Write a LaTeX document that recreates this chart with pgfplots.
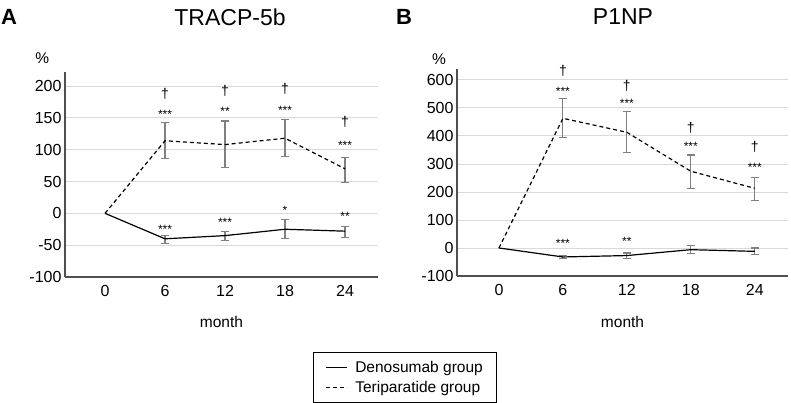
\documentclass[border=0pt]{standalone}
\usepackage{fontspec}
\setmainfont{Liberation Sans}
\usepackage{pgfplots}
\pgfplotsset{compat=1.18}
\definecolor{errgray}{RGB}{128,128,128}
\definecolor{gridgray}{RGB}{217,217,217}
\definecolor{axisgray}{RGB}{80,80,80}
\tikzset{
  star/.style={font=\fontsize{12}{12}\selectfont, anchor=center},
  dag/.style={font=\fontsize{14}{14}\selectfont, anchor=center},
}
\pgfplotsset{
  panel/.style={
    scale only axis,
    anchor=south west,
    axis lines*=left,
    axis line style={draw=axisgray, line width=1.3pt},
    ymajorgrids,
    grid style={draw=gridgray, line width=0.9pt},
    major tick length=0pt,
    xmin=-0.667, xmax=4.55,
    xtick={0,1,2,3,4},
    xticklabels={0,6,12,18,24},
    /pgf/number format/assume math mode=true,
    tick label style={font=\fontsize{16}{18}\selectfont},
    xticklabel style={yshift=-5pt},
    xlabel={month},
    xlabel style={font=\fontsize{15.5}{18}\selectfont, at={(axis description cs:0.5,-0.22)}, anchor=center},
    clip=false,
  },
  ebar/.style={draw=none, forget plot,
    error bars/.cd, y dir=both, y explicit,
    error bar style={draw=errgray, line width=1.1pt, solid},
    error mark options={draw=errgray, line width=1.1pt, mark size=4pt, solid, rotate=90}},
}
\begin{document}
\begin{tikzpicture}
\path[use as bounding box] (0pt,0pt) rectangle (791pt,402pt);
\node[font=\fontsize{22}{24}\selectfont\bfseries] at (9pt,385pt) {A};
\node[font=\fontsize{23}{26}\selectfont] at (230pt,385pt) {TRACP-5b};
\node[font=\fontsize{22}{24}\selectfont\bfseries] at (404pt,385pt) {B};
\node[font=\fontsize{23}{26}\selectfont] at (623pt,385pt) {P1NP};

\begin{axis}[panel, at={(65pt,125pt)}, width=313pt, height=205pt,
  ymin=-100, ymax=222, ytick={-100,-50,0,50,100,150,200},
  legend style={at={(axis description cs:0.792,-0.366)}, anchor=north west,
    font=\fontsize{15.5}{18}\selectfont, draw=black, line width=0.8pt,
    inner xsep=12pt, inner ysep=7pt, row sep=3pt,
    /tikz/every odd column/.append style={column sep=6pt}},
  legend cell align=left,
  legend image code/.code={\draw[#1, line width=1pt] (0pt,0pt) -- (21pt,0pt);},
]
\addplot[ebar] coordinates {(1,-40) += (0,5) -= (0,7) (2,-35) += (0,6) -= (0,7) (3,-25) += (0,15) -= (0,15) (4,-28) += (0,8) -= (0,10)};
\addplot[ebar] coordinates {(1,114) += (0,29) -= (0,28) (2,108) += (0,37) -= (0,36) (3,118) += (0,30) -= (0,29) (4,70) += (0,18) -= (0,21)};
\addplot[black, line width=1.2pt, mark=none] coordinates {(0,0) (1,-40) (2,-35) (3,-25) (4,-28)};
\addlegendentry{Denosumab group}
\addplot[black, line width=1.2pt, mark=none, dash pattern=on 4pt off 3pt] coordinates {(0,0) (1,114) (2,108) (3,118) (4,70)};
\addlegendentry{Teriparatide group}
\node at (axis description cs:-0.073,1.068) {\fontsize{15.5}{18}\selectfont\%};
\node[dag] at (axis cs:1,188) {†};
\node[star] at (axis cs:1,155.5) {***};
\node[dag] at (axis cs:2,193) {†};
\node[star] at (axis cs:2,160.5) {**};
\node[dag] at (axis cs:3,196) {†};
\node[star] at (axis cs:3,161.5) {***};
\node[dag] at (axis cs:4,144) {†};
\node[star] at (axis cs:4,107.5) {***};
\node[star] at (axis cs:1,-25.5) {***};
\node[star] at (axis cs:2,-14.5) {***};
\node[star] at (axis cs:3,4.5) {*};
\node[star] at (axis cs:4,-4.5) {**};
\end{axis}

\begin{axis}[panel, at={(457pt,126pt)}, width=331pt, height=207pt,
  xmin=-0.656, xmax=4.52,
  ymin=-100, ymax=639, ytick={-100,0,100,200,300,400,500,600}]
\addplot[ebar] coordinates {(1,-32) += (0,6) -= (0,7) (2,-27) += (0,9) -= (0,10) (3,-6) += (0,16) -= (0,15) (4,-12) += (0,12) -= (0,12)};
\addplot[ebar] coordinates {(1,463) += (0,70) -= (0,70) (2,413) += (0,73) -= (0,71) (3,274) += (0,58) -= (0,61) (4,213) += (0,39) -= (0,44)};
\addplot[black, line width=1.2pt, mark=none] coordinates {(0,0) (1,-32) (2,-27) (3,-6) (4,-12)};
\addplot[black, line width=1.2pt, mark=none, dash pattern=on 4pt off 3pt] coordinates {(0,0) (1,463) (2,413) (3,274) (4,213)};
\node at (axis description cs:-0.054,1.048) {\fontsize{15.5}{18}\selectfont\%};
\node[dag] at (axis cs:1,633) {†};
\node[star] at (axis cs:1,558) {***};
\node[dag] at (axis cs:2,580) {†};
\node[star] at (axis cs:2,516) {***};
\node[dag] at (axis cs:3,429) {†};
\node[star] at (axis cs:3,363) {***};
\node[dag] at (axis cs:4,360) {†};
\node[star] at (axis cs:4,288) {***};
\node[star] at (axis cs:1,17) {***};
\node[star] at (axis cs:2,22) {**};
\end{axis}
\end{tikzpicture}
\end{document}
